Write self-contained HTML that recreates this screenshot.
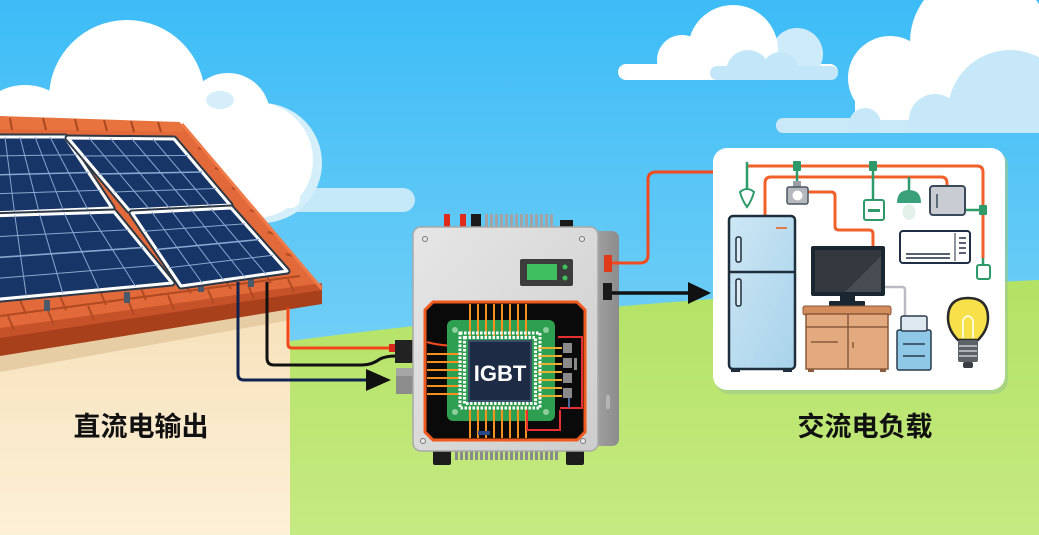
<!DOCTYPE html>
<html><head><meta charset="utf-8"><style>
html,body{margin:0;padding:0;width:1039px;height:535px;overflow:hidden;background:#5cc8f5}
svg{display:block}
</style></head><body>
<svg width="1039" height="535" viewBox="0 0 1039 535" xmlns="http://www.w3.org/2000/svg">
<defs>
<linearGradient id="sky" x1="0" y1="0" x2="0" y2="1">
<stop offset="0" stop-color="#3dbcf7"/><stop offset="0.6" stop-color="#6dcdf6"/><stop offset="1" stop-color="#a5def2"/>
</linearGradient>
<linearGradient id="grass" x1="0" y1="0" x2="0" y2="1">
<stop offset="0" stop-color="#b3e264"/><stop offset="1" stop-color="#c6ea82"/>
</linearGradient>
<linearGradient id="wall" x1="0" y1="0" x2="0" y2="1">
<stop offset="0" stop-color="#f6e1ba"/><stop offset="1" stop-color="#fdf0d8"/>
</linearGradient>
<linearGradient id="front" x1="0" y1="0" x2="1" y2="1">
<stop offset="0" stop-color="#e6e6e6"/><stop offset="1" stop-color="#cdcdcd"/>
</linearGradient>
<linearGradient id="side" x1="0" y1="0" x2="1" y2="0">
<stop offset="0" stop-color="#a9a9a9"/><stop offset="1" stop-color="#8c8c8c"/>
</linearGradient>
<linearGradient id="fridge" x1="0" y1="0" x2="1" y2="1">
<stop offset="0" stop-color="#cde7f5"/><stop offset="1" stop-color="#a8d2ea"/>
</linearGradient>
<clipPath id="c1"><rect x="600" y="-10" width="260" height="90"/></clipPath>
<clipPath id="c2"><rect x="760" y="-10" width="290" height="143"/></clipPath>
</defs>

<!-- sky -->
<rect x="0" y="0" width="1039" height="535" fill="url(#sky)"/>

<!-- left cloud -->
<g>
<rect x="200" y="188" width="215" height="24" rx="12" fill="#c6e9f9"/>
<circle cx="262" cy="163" r="60" fill="#d4eefa"/>
<circle cx="255" cy="160" r="58" fill="#ffffff"/>
<circle cx="228" cy="115" r="42" fill="#ffffff"/>
<circle cx="127" cy="98" r="78" fill="#ffffff"/>
<circle cx="25" cy="140" r="55" fill="#ffffff"/>
<rect x="0" y="120" width="260" height="100" fill="#ffffff"/>
<ellipse cx="220" cy="100" rx="14" ry="9" fill="#d6eefa"/>
<rect x="200" y="190" width="100" height="18" rx="9" fill="#ffffff"/>
</g>

<!-- right cloud 1 -->
<g clip-path="url(#c1)">
<rect x="618" y="64" width="220" height="16" rx="8" fill="#ffffff"/>
<circle cx="797" cy="54" r="26" fill="#cdebf9"/>
<circle cx="733" cy="50" r="45" fill="#ffffff"/>
<circle cx="682" cy="60" r="25" fill="#ffffff"/>
<circle cx="748" cy="72" r="22" fill="#c3e7f9"/>
<circle cx="780" cy="70" r="18" fill="#c3e7f9"/>
<rect x="710" y="66" width="128" height="14" rx="7" fill="#c3e7f9"/>
</g>

<!-- right cloud 2 -->
<g clip-path="url(#c2)">
<rect x="776" y="118" width="263" height="15" rx="7" fill="#c9e9f9"/>
<circle cx="980" cy="42" r="70" fill="#ffffff"/>
<circle cx="890" cy="78" r="42" fill="#ffffff"/>
<rect x="855" y="60" width="184" height="60" fill="#ffffff"/>
<circle cx="1010" cy="112" r="62" fill="#c6e8f9"/>
<circle cx="935" cy="120" r="26" fill="#c6e8f9"/>
<circle cx="865" cy="124" r="16" fill="#c6e8f9"/>
</g>

<!-- grass -->
<path d="M290,341 Q600,300 1039,280 L1039,535 L290,535 Z" fill="url(#grass)"/>

<!-- wall -->
<polygon points="0,345 290,300 290,535 0,535" fill="url(#wall)"/>
<polygon points="0,350 290,303 290,320 0,372" fill="#e6cda4"/>

<!-- roof -->
<polygon points="0,118 182,124 322,289 0,338" fill="#e2693a"/>
<polygon points="0,330 322,287 322,304 0,356" fill="#a9401c"/>
<polygon points="0,328 322,283 322,290 0,338" fill="#c6522a"/>
<polygon points="0,116 180,122 184,132 0,129" fill="#e8733f"/>
<g stroke="#a84820" stroke-width="2">
<line x1="10" y1="118" x2="12" y2="130"/><line x1="43" y1="118" x2="46" y2="130"/>
<line x1="75" y1="119" x2="78" y2="131"/><line x1="104" y1="120" x2="107" y2="131"/>
<line x1="131" y1="121" x2="134" y2="132"/><line x1="158" y1="122" x2="161" y2="132"/>
</g>
<g stroke="#b04a22" stroke-width="2" fill="none">
<line x1="0" y1="316" x2="300" y2="276"/>
<line x1="20" y1="300" x2="26" y2="314"/><line x1="60" y1="296" x2="66" y2="310"/>
<line x1="100" y1="291" x2="106" y2="305"/><line x1="140" y1="286" x2="146" y2="300"/>
<line x1="185" y1="285" x2="191" y2="293"/><line x1="225" y1="280" x2="231" y2="289"/>
<line x1="265" y1="274" x2="271" y2="283"/>
<line x1="8" y1="316" x2="14" y2="330"/><line x1="48" y1="311" x2="54" y2="325"/>
<line x1="88" y1="306" x2="94" y2="320"/><line x1="128" y1="300" x2="134" y2="315"/>
<line x1="168" y1="295" x2="174" y2="310"/><line x1="208" y1="290" x2="214" y2="304"/>
<line x1="248" y1="285" x2="254" y2="299"/><line x1="288" y1="279" x2="294" y2="292"/>
<line x1="198" y1="148" x2="205" y2="150"/><line x1="215" y1="168" x2="222" y2="170"/>
<line x1="232" y1="188" x2="239" y2="190"/><line x1="250" y1="210" x2="257" y2="212"/>
<line x1="268" y1="232" x2="275" y2="234"/><line x1="286" y1="254" x2="293" y2="256"/>
</g>
<polyline points="182,124 322,289" stroke="#f07a48" stroke-width="3" fill="none"/>

<!-- mounting feet -->
<g fill="#4a5a6c">
<rect x="44" y="300" width="6" height="11"/><rect x="124" y="292" width="6" height="11"/>
<rect x="198" y="282" width="6" height="10"/><rect x="248" y="277" width="6" height="10"/>
</g>

<!-- solar panels -->
<g stroke-linejoin="round">
<g>
<polygon points="-10,137 65,137 112,208 -10,213" fill="#173566" stroke="#2d3947" stroke-width="7"/>
<polygon points="-10,137 65,137 112,208 -10,213" fill="#173566" stroke="#ffffff" stroke-width="3"/>
<g stroke="#8aa6d2" stroke-width="1">
<line x1="5" y1="137" x2="14.4" y2="212"/><line x1="20" y1="137" x2="38.8" y2="211"/>
<line x1="35" y1="137" x2="63.2" y2="210"/><line x1="50" y1="137" x2="87.6" y2="209"/>
<line x1="-10" y1="156" x2="76.75" y2="154.75"/><line x1="-10" y1="175" x2="88.5" y2="172.5" stroke-width="1.6"/>
<line x1="-10" y1="194" x2="100.25" y2="190.25"/>
</g></g>
<g>
<polygon points="-10,216 114,212 172,283 -10,300" fill="#173566" stroke="#2d3947" stroke-width="7"/>
<polygon points="-10,216 114,212 172,283 -10,300" fill="#173566" stroke="#ffffff" stroke-width="3"/>
<g stroke="#8aa6d2" stroke-width="1">
<line x1="14.8" y1="215.2" x2="26.4" y2="296.6"/><line x1="39.6" y1="214.4" x2="62.8" y2="293.2"/>
<line x1="64.4" y1="213.6" x2="99.2" y2="289.8"/><line x1="89.2" y1="212.8" x2="135.6" y2="286.4"/>
<line x1="-10" y1="237" x2="128.5" y2="229.75"/><line x1="-10" y1="258" x2="143" y2="247.5" stroke-width="1.6"/>
<line x1="-10" y1="279" x2="157.5" y2="265.25"/>
</g></g>
<g>
<polygon points="68,138 174,139 230,205 129,210" fill="#173566" stroke="#2d3947" stroke-width="7"/>
<polygon points="68,138 174,139 230,205 129,210" fill="#173566" stroke="#ffffff" stroke-width="3"/>
<g stroke="#8aa6d2" stroke-width="1">
<line x1="89.2" y1="138.2" x2="149.2" y2="209"/><line x1="110.4" y1="138.4" x2="169.4" y2="208"/>
<line x1="131.6" y1="138.6" x2="189.6" y2="207"/><line x1="152.8" y1="138.8" x2="209.8" y2="206"/>
<line x1="83.25" y1="156" x2="188" y2="155.5"/><line x1="98.5" y1="174" x2="202" y2="172" stroke-width="1.6"/>
<line x1="113.75" y1="192" x2="216" y2="188.5"/>
</g></g>
<g>
<polygon points="132,213 231,208 287,271 181,286" fill="#173566" stroke="#2d3947" stroke-width="7"/>
<polygon points="132,213 231,208 287,271 181,286" fill="#173566" stroke="#ffffff" stroke-width="3"/>
<g stroke="#8aa6d2" stroke-width="1">
<line x1="151.8" y1="212" x2="202.2" y2="283"/><line x1="171.6" y1="211" x2="223.4" y2="280"/>
<line x1="191.4" y1="210" x2="244.6" y2="277"/><line x1="211.2" y1="209" x2="265.8" y2="274"/>
<line x1="144.25" y1="231.25" x2="245" y2="223.75"/><line x1="156.5" y1="249.5" x2="259" y2="239.5" stroke-width="1.6"/>
<line x1="168.75" y1="267.75" x2="273" y2="255.25"/>
</g></g>
</g>

<!-- DC cables -->
<path d="M288,308 V344 Q288,348 292,348 H394" stroke="#f2471a" stroke-width="3" fill="none"/>
<rect x="389" y="344" width="6" height="8" fill="#d8281a"/>
<path d="M267,282 V358 Q267,365 274,365 H362 Q372,365 380,359 Q386,356 396,356" stroke="#111" stroke-width="3" fill="none"/>
<path d="M238,282 V374 Q238,380 244,380 H368" stroke="#0f2350" stroke-width="3" fill="none"/>
<polygon points="366,369 391,380 366,391" fill="#111"/>
<rect x="395" y="340" width="19" height="23" fill="#222"/>
<rect x="396" y="368" width="18" height="26" fill="#8c8c8c"/>
<rect x="396" y="368" width="18" height="8" fill="#a6a6a6"/>

<!-- inverter -->
<g>
<rect x="444" y="214" width="6" height="14" fill="#e02a1a"/>
<rect x="460" y="214" width="6" height="14" fill="#e02a1a"/>
<rect x="471" y="214" width="10" height="14" fill="#1a1a1a"/>
<g fill="#a3a3a3">
<rect x="485" y="214" width="3" height="14"/><rect x="490" y="214" width="3" height="14"/>
<rect x="495" y="214" width="3" height="14"/><rect x="500" y="214" width="3" height="14"/>
<rect x="505" y="214" width="3" height="14"/><rect x="510" y="214" width="3" height="14"/>
<rect x="515" y="214" width="3" height="14"/><rect x="520" y="214" width="3" height="14"/>
<rect x="525" y="214" width="3" height="14"/><rect x="530" y="214" width="3" height="14"/>
<rect x="535" y="214" width="3" height="14"/><rect x="540" y="214" width="3" height="14"/>
<rect x="545" y="214" width="3" height="14"/><rect x="550" y="214" width="3" height="14"/>
</g>
<rect x="560" y="220" width="13" height="8" fill="#1a1a1a"/>
<rect x="433" y="446" width="18" height="19" rx="2" fill="#1c1c1c"/>
<rect x="566" y="446" width="18" height="19" rx="2" fill="#1c1c1c"/>
<g fill="#8a8a8a">
<rect x="455" y="448" width="3" height="12"/><rect x="460" y="448" width="3" height="12"/>
<rect x="465" y="448" width="3" height="12"/><rect x="470" y="448" width="3" height="12"/>
<rect x="475" y="448" width="3" height="12"/><rect x="480" y="448" width="3" height="12"/>
<rect x="485" y="448" width="3" height="12"/><rect x="490" y="448" width="3" height="12"/>
<rect x="495" y="448" width="3" height="12"/><rect x="500" y="448" width="3" height="12"/>
<rect x="505" y="448" width="3" height="12"/><rect x="510" y="448" width="3" height="12"/>
<rect x="515" y="448" width="3" height="12"/><rect x="520" y="448" width="3" height="12"/>
<rect x="525" y="448" width="3" height="12"/><rect x="530" y="448" width="3" height="12"/>
<rect x="535" y="448" width="3" height="12"/><rect x="540" y="448" width="3" height="12"/>
<rect x="545" y="448" width="3" height="12"/><rect x="550" y="448" width="3" height="12"/>
<rect x="555" y="448" width="3" height="12"/>
</g>
<rect x="586" y="231" width="33" height="215" rx="7" fill="url(#side)"/>
<rect x="413" y="227" width="185" height="224" rx="8" fill="url(#front)" stroke="#a8a8a8" stroke-width="1.5"/>
<g fill="#e8e8e8" stroke="#777" stroke-width="1">
<circle cx="425" cy="239" r="2.5"/><circle cx="582" cy="239" r="2.5"/>
<circle cx="423" cy="441" r="2.5"/><circle cx="583" cy="441" r="2.5"/>
</g>
<rect x="520" y="259" width="53" height="27" rx="2" fill="#3c3c3c"/>
<rect x="527" y="264" width="30" height="16" fill="#3fbf5f"/>
<circle cx="565" cy="267" r="2.5" fill="#3fbf5f"/><circle cx="565" cy="278" r="2.5" fill="#3fbf5f"/>
<rect x="606" y="395" width="4" height="14" rx="1" fill="#b4b4b4"/>
<rect x="604" y="255" width="8" height="17" fill="#e03a1a"/>
<rect x="603" y="283" width="9" height="17" fill="#1a1a1a"/>
</g>

<!-- circuit -->
<g>
<polygon points="433,302 577,302 585,310 585,432 577,440 433,440 425,432 425,310" fill="#0a0a0a" stroke="#f05a1e" stroke-width="3"/>
<g stroke="#f5921e" stroke-width="2">
<line x1="470" y1="304" x2="470" y2="336"/><line x1="478" y1="304" x2="478" y2="336"/>
<line x1="486" y1="304" x2="486" y2="336"/><line x1="494" y1="304" x2="494" y2="336"/>
<line x1="502" y1="304" x2="502" y2="336"/><line x1="510" y1="304" x2="510" y2="336"/>
<line x1="518" y1="304" x2="518" y2="336"/><line x1="526" y1="304" x2="526" y2="336"/>
<line x1="470" y1="406" x2="470" y2="438"/><line x1="478" y1="406" x2="478" y2="438"/>
<line x1="486" y1="406" x2="486" y2="438"/><line x1="494" y1="406" x2="494" y2="438"/>
<line x1="502" y1="406" x2="502" y2="438"/><line x1="510" y1="406" x2="510" y2="438"/>
<line x1="518" y1="406" x2="518" y2="438"/><line x1="526" y1="406" x2="526" y2="438"/>
<line x1="427" y1="354" x2="462" y2="354"/><line x1="427" y1="362" x2="462" y2="362"/>
<line x1="427" y1="370" x2="462" y2="370"/><line x1="427" y1="378" x2="462" y2="378"/>
<line x1="427" y1="386" x2="462" y2="386"/><line x1="427" y1="394" x2="462" y2="394"/>
</g>
<path d="M427,342 Q440,346 462,346" stroke="#f04a1e" stroke-width="2" fill="none"/>
<rect x="447" y="320" width="108" height="101" rx="6" fill="#2e9e50"/>
<g stroke="#f5921e" stroke-width="2">
<line x1="470" y1="320" x2="470" y2="336"/><line x1="478" y1="320" x2="478" y2="336"/>
<line x1="486" y1="320" x2="486" y2="336"/><line x1="494" y1="320" x2="494" y2="336"/>
<line x1="502" y1="320" x2="502" y2="336"/><line x1="510" y1="320" x2="510" y2="336"/>
<line x1="518" y1="320" x2="518" y2="336"/><line x1="526" y1="320" x2="526" y2="336"/>
<line x1="470" y1="406" x2="470" y2="421"/><line x1="478" y1="406" x2="478" y2="421"/>
<line x1="486" y1="406" x2="486" y2="421"/><line x1="494" y1="406" x2="494" y2="421"/>
<line x1="502" y1="406" x2="502" y2="421"/><line x1="510" y1="406" x2="510" y2="421"/>
<line x1="518" y1="406" x2="518" y2="421"/><line x1="526" y1="406" x2="526" y2="421"/>
<line x1="447" y1="354" x2="462" y2="354"/><line x1="447" y1="362" x2="462" y2="362"/>
<line x1="447" y1="370" x2="462" y2="370"/><line x1="447" y1="378" x2="462" y2="378"/>
<line x1="447" y1="386" x2="462" y2="386"/><line x1="447" y1="394" x2="462" y2="394"/>
</g>
<g stroke="#e8b030" stroke-width="2">
<line x1="538" y1="348" x2="562" y2="348"/><line x1="538" y1="356" x2="562" y2="356"/>
<line x1="538" y1="364" x2="562" y2="364"/><line x1="538" y1="372" x2="562" y2="372"/>
<line x1="538" y1="380" x2="562" y2="380"/><line x1="538" y1="388" x2="562" y2="388"/>
<line x1="538" y1="396" x2="562" y2="396"/>
</g>
<g fill="#8fcf9f">
<circle cx="455" cy="330" r="3"/><circle cx="546" cy="330" r="3"/>
<circle cx="455" cy="412" r="3"/><circle cx="546" cy="412" r="3"/>
</g>
<rect x="460" y="333" width="80" height="75" fill="none" stroke="#ffffff" stroke-width="3" stroke-dasharray="2.5 1.5"/>
<rect x="464.5" y="337.5" width="71" height="66" fill="none" stroke="#ffffff" stroke-width="3" stroke-dasharray="2.5 1.5"/>
<rect x="469" y="341" width="62" height="60" fill="#1e2b45" stroke="#3c4d6c" stroke-width="2"/>
<text x="500" y="381" text-anchor="middle" font-family="Liberation Sans, sans-serif" font-weight="bold" font-size="22" fill="#ffffff">IGBT</text>
<path d="M558,337 H582 V408 H560" stroke="#e83030" stroke-width="2" fill="none"/>
<path d="M527,410 V430 H560 V410" stroke="#e83030" stroke-width="2" fill="none"/>
<g fill="#8a8a8a">
<rect x="563" y="343" width="9" height="10"/><rect x="563" y="358" width="9" height="10"/>
<rect x="563" y="373" width="9" height="10"/><rect x="563" y="388" width="9" height="10"/>
</g>
<rect x="574" y="358" width="3" height="12" fill="#8a8a8a"/>
<rect x="568" y="398" width="2" height="10" fill="#4a6a9a"/>
<rect x="478" y="431" width="12" height="4" fill="#2a4a8a"/>
</g>

<!-- AC output -->
<path d="M612,263 H640 Q648,263 648,255 V180 Q648,172 656,172 H714" stroke="#f04a1e" stroke-width="3" fill="none"/>
<line x1="612" y1="293" x2="690" y2="293" stroke="#111" stroke-width="3.5"/>
<polygon points="688,282 711,293 688,304" fill="#111"/>

<!-- AC load panel -->
<rect x="715" y="151" width="293" height="243" rx="14" fill="#9cc98a" opacity="0.6"/>
<rect x="713" y="148" width="292" height="242" rx="14" fill="#ffffff"/>
<g fill="none" stroke-linejoin="round">
<path d="M747,166 H977 Q983,166 983,172 V258" stroke="#f0602a" stroke-width="3"/>
<path d="M765,215 V183 Q765,177 771,177 H941 Q947,177 947,183 V187" stroke="#f0602a" stroke-width="3"/>
<path d="M807,192 H831 Q835,192 835,196 V226 Q835,230 839,230 H869 Q873,230 873,234 V246" stroke="#f0602a" stroke-width="3"/>
<path d="M747,162 V190" stroke="#2e9a6a" stroke-width="2.5"/>
<path d="M797,166 V188" stroke="#2e9a6a" stroke-width="2.5"/>
<path d="M873,166 V200" stroke="#2e9a6a" stroke-width="2.5"/>
<path d="M909,177 V192" stroke="#2e9a6a" stroke-width="2.5"/>
<path d="M965,210 H983" stroke="#2e9a6a" stroke-width="2.5"/>
<path d="M983,258 V266" stroke="#2e9a6a" stroke-width="2.5"/>
<path d="M885,287 H902 Q905,287 905,290 V316" stroke="#b8bcc0" stroke-width="2.5"/>
</g>
<g fill="#2e9a6a">
<rect x="793" y="161" width="8" height="10" rx="1"/>
<rect x="869" y="161" width="8" height="10" rx="1"/>
<rect x="979" y="205" width="8" height="10" rx="1"/>
</g>
<path d="M740,192 Q747,186 754,192 Q752,200 747,207 Q742,200 740,192 Z" fill="#ffffff" stroke="#2e9a6a" stroke-width="2"/>
<rect x="793" y="181" width="8" height="7" fill="#9aa0a6"/>
<rect x="787" y="187" width="21" height="17" rx="2" fill="#b5b9be" stroke="#4a5560" stroke-width="1.5"/>
<circle cx="797.5" cy="195.5" r="5" fill="#ffffff"/>
<rect x="864" y="200" width="20" height="20" rx="2" fill="#ffffff" stroke="#2e9a6a" stroke-width="2"/>
<rect x="868" y="209" width="12" height="3" fill="#2e9a6a"/>
<path d="M897,203 Q897,190 909,190 Q921,190 921,203 Z" fill="#3aa07a"/>
<ellipse cx="909" cy="212" rx="6.5" ry="8" fill="#e3efe9"/>
<rect x="930" y="186" width="35" height="29" rx="3" fill="#c9cdd3" stroke="#3a4a5a" stroke-width="2"/>
<line x1="937" y1="194" x2="937" y2="208" stroke="#3a4a5a" stroke-width="1.5"/>
<rect x="900" y="231" width="70" height="32" rx="3" fill="#ffffff" stroke="#1f2e44" stroke-width="2"/>
<line x1="906" y1="254" x2="950" y2="254" stroke="#1f2e44" stroke-width="1.5"/>
<line x1="906" y1="258" x2="950" y2="258" stroke="#1f2e44" stroke-width="1.5"/>
<line x1="955" y1="233" x2="955" y2="261" stroke="#1f2e44" stroke-width="1"/>
<g stroke="#1f2e44" stroke-width="1.5"><line x1="959" y1="238" x2="966" y2="238"/><line x1="959" y1="243" x2="966" y2="243"/><line x1="959" y1="248" x2="966" y2="248"/><line x1="959" y1="253" x2="966" y2="253"/></g>
<rect x="977" y="265" width="13" height="14" rx="2" fill="#ffffff" stroke="#2e9a6a" stroke-width="2"/>
<rect x="731" y="366" width="9" height="6" fill="#1f2e3c"/><rect x="783" y="366" width="9" height="6" fill="#1f2e3c"/>
<rect x="729" y="216" width="66" height="153" rx="4" fill="url(#fridge)" stroke="#1f2e3c" stroke-width="2.5"/>
<line x1="729" y1="272" x2="795" y2="272" stroke="#1f2e3c" stroke-width="2.5"/>
<rect x="736" y="237" width="5" height="25" rx="2" fill="#dcebf4" stroke="#1f2e3c" stroke-width="1.5"/>
<rect x="736" y="279" width="5" height="27" rx="2" fill="#dcebf4" stroke="#1f2e3c" stroke-width="1.5"/>
<line x1="776" y1="228" x2="787" y2="228" stroke="#e07a4a" stroke-width="2"/>
<rect x="811" y="246" width="74" height="50" rx="2" fill="#1a2630"/>
<rect x="815" y="250" width="66" height="42" fill="#33383e"/>
<polygon points="845,292 881,256 881,292" fill="#474c52"/>
<rect x="840" y="296" width="15" height="6" fill="#1a2630"/>
<rect x="829" y="301" width="36" height="5" rx="1" fill="#1a2630"/>
<rect x="803" y="306" width="88" height="9" rx="2" fill="#d38c5c" stroke="#8a5a3a" stroke-width="1"/>
<rect x="806" y="314" width="82" height="55" fill="#e3aa80" stroke="#8a5a3a" stroke-width="1.5"/>
<line x1="806" y1="327" x2="888" y2="327" stroke="#8a5a3a" stroke-width="1.5"/>
<line x1="848" y1="314" x2="848" y2="369" stroke="#8a5a3a" stroke-width="1.5"/>
<line x1="811" y1="342" x2="838" y2="342" stroke="#8a5a3a" stroke-width="1.5"/>
<line x1="853" y1="342" x2="853" y2="348" stroke="#8a5a3a" stroke-width="1.5"/>
<rect x="808" y="369" width="6" height="3" fill="#8a5a3a"/><rect x="880" y="369" width="6" height="3" fill="#8a5a3a"/>
<rect x="897" y="330" width="34" height="40" rx="2" fill="#8fc8e6" stroke="#2a3a4a" stroke-width="1.5"/>
<rect x="901" y="316" width="26" height="15" rx="2" fill="#dde8f0" stroke="#2a3a4a" stroke-width="1.5"/>
<line x1="903" y1="344" x2="925" y2="344" stroke="#2a3a4a" stroke-width="1.5"/>
<line x1="903" y1="356" x2="925" y2="356" stroke="#2a3a4a" stroke-width="1.5"/>
<path d="M958,340 Q948,330 948,318 Q948,298 968,298 Q988,298 988,318 Q988,330 978,340 Z" fill="#f8e04a" stroke="#2a2a2a" stroke-width="2.5"/>
<path d="M963,338 V320 M973,338 V320 M963,320 Q968,312 973,320" stroke="#ffffff" stroke-width="1.5" fill="none"/>
<rect x="958" y="340" width="20" height="22" rx="2" fill="#5c6168"/>
<g stroke="#c9ccd0" stroke-width="1.5"><line x1="959" y1="346" x2="977" y2="346"/><line x1="959" y1="351" x2="977" y2="351"/><line x1="959" y1="356" x2="977" y2="356"/></g>
<rect x="963" y="362" width="10" height="6" rx="2" fill="#3a3e44"/>

<!-- labels -->
<text x="141" y="436" text-anchor="middle" font-family="Liberation Sans, 'Noto Sans CJK SC', sans-serif" font-weight="bold" font-size="27" fill="#111">直流电输出</text>
<text x="865" y="436" text-anchor="middle" font-family="Liberation Sans, 'Noto Sans CJK SC', sans-serif" font-weight="bold" font-size="27" fill="#111">交流电负载</text>
</svg>
</body></html>
